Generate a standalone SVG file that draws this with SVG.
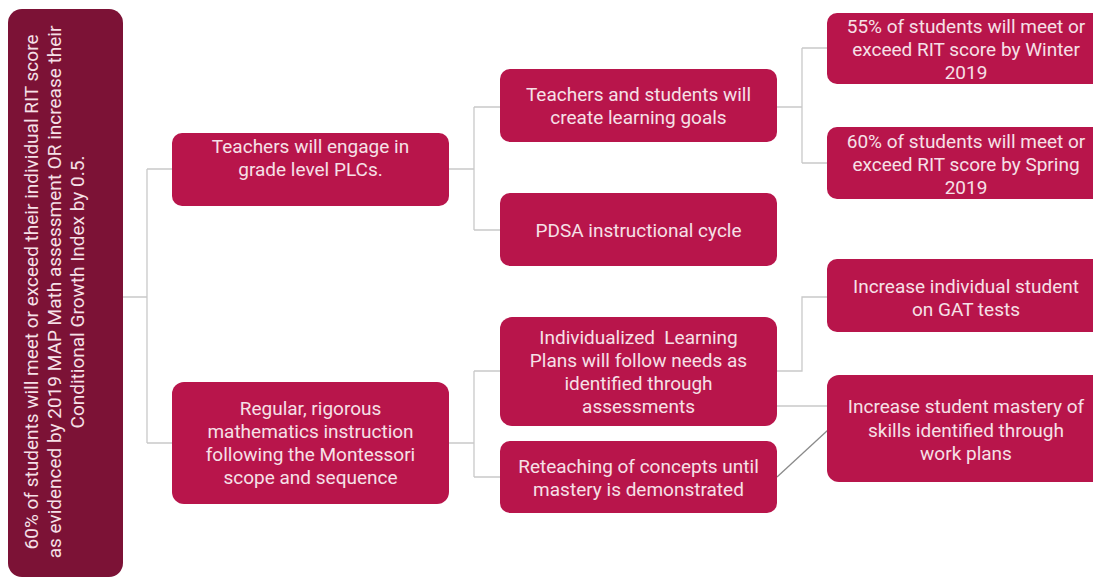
<svg xmlns="http://www.w3.org/2000/svg" width="1093" height="580" viewBox="0 0 1093 580">
  <style>
    .box { fill: #b8154b; }
    .root { fill: #7c1236; }
    .lbl { font-family: Roboto, "Liberation Sans", sans-serif; font-size: 19px; fill: #f6e0e7; text-anchor: middle; white-space: pre; }
    .wire { fill: none; stroke: #c9c9c9; stroke-width: 1.3; }
    .wire2 { fill: none; stroke: #8a8a8a; stroke-width: 1.3; }
  </style>
  <rect width="1093" height="580" fill="#ffffff"/>

  <g id="connectors">
    <!-- root to second level -->
    <path class="wire" d="M123 297 H147 M147 169 V443 M147 169 H172 M147 443 H172"/>
    <!-- PLCs branch -->
    <path class="wire" d="M449 169 H474 M474 107 V230 M474 107 H500 M474 230 H500"/>
    <!-- learning goals branch -->
    <path class="wire" d="M777 107 H802 M802 48 V163 M802 48 H827 M802 163 H827"/>
    <!-- instruction branch -->
    <path class="wire" d="M449 443 H474 M474 371 V477 M474 371 H500 M474 477 H500"/>
    <!-- learning plans outcomes -->
    <path class="wire" d="M777 371 H802 V297 H827 M777 406 H827"/>
    <path class="wire2" d="M777 477 L828 430"/>
  </g>

  <g id="goal">
    <rect class="root" x="8" y="9" width="115" height="568" rx="14"/>
    <g transform="translate(0 292) rotate(-90)">
      <text class="lbl" x="0" y="38">60% of students will meet or exceed their individual RIT score</text>
      <text class="lbl" x="0" y="61">as evidenced by 2019 MAP Math assessment OR increase their</text>
      <text class="lbl" x="0" y="84">Conditional Growth Index by 0.5.</text>
    </g>
  </g>

  <g id="plcs">
    <rect class="box" x="172" y="133" width="277" height="73" rx="10"/>
    <text class="lbl" x="310.5" y="153">Teachers will engage in</text>
    <text class="lbl" x="310.5" y="176">grade level PLCs.</text>
  </g>

  <g id="instruction">
    <rect class="box" x="172" y="382" width="277" height="122" rx="12"/>
    <text class="lbl" x="310.5" y="415">Regular, rigorous</text>
    <text class="lbl" x="310.5" y="438">mathematics instruction</text>
    <text class="lbl" x="310.5" y="461">following the Montessori</text>
    <text class="lbl" x="310.5" y="484">scope and sequence</text>
  </g>

  <g id="learning-goals">
    <rect class="box" x="500" y="69" width="277" height="73" rx="10"/>
    <text class="lbl" x="638.5" y="101">Teachers and students will</text>
    <text class="lbl" x="638.5" y="124">create learning goals</text>
  </g>

  <g id="pdsa">
    <rect class="box" x="500" y="193" width="277" height="73" rx="10"/>
    <text class="lbl" x="638.5" y="237">PDSA instructional cycle</text>
  </g>

  <g id="learning-plans">
    <rect class="box" x="500" y="317" width="277" height="109" rx="12"/>
    <text class="lbl" x="638.5" y="344">Individualized  Learning</text>
    <text class="lbl" x="638.5" y="367">Plans will follow needs as</text>
    <text class="lbl" x="638.5" y="390">identified through</text>
    <text class="lbl" x="638.5" y="413">assessments</text>
  </g>

  <g id="reteaching">
    <rect class="box" x="500" y="441" width="277" height="72" rx="10"/>
    <text class="lbl" x="638.5" y="473">Reteaching of concepts until</text>
    <text class="lbl" x="638.5" y="496">mastery is demonstrated</text>
  </g>

  <g id="winter">
    <rect class="box" x="827" y="13" width="277" height="71" rx="10"/>
    <text class="lbl" x="966" y="33">55% of students will meet or</text>
    <text class="lbl" x="966" y="56">exceed RIT score by Winter</text>
    <text class="lbl" x="966" y="79">2019</text>
  </g>

  <g id="spring">
    <rect class="box" x="827" y="127" width="277" height="72" rx="10"/>
    <text class="lbl" x="966" y="148">60% of students will meet or</text>
    <text class="lbl" x="966" y="171">exceed RIT score by Spring</text>
    <text class="lbl" x="966" y="194">2019</text>
  </g>

  <g id="gat">
    <rect class="box" x="827" y="259" width="277" height="73" rx="10"/>
    <text class="lbl" x="966" y="293">Increase individual student</text>
    <text class="lbl" x="966" y="316">on GAT tests</text>
  </g>

  <g id="mastery">
    <rect class="box" x="827" y="375" width="277" height="107" rx="12"/>
    <text class="lbl" x="966" y="413">Increase student mastery of</text>
    <text class="lbl" x="966" y="437">skills identified through</text>
    <text class="lbl" x="966" y="460">work plans</text>
  </g>
</svg>
